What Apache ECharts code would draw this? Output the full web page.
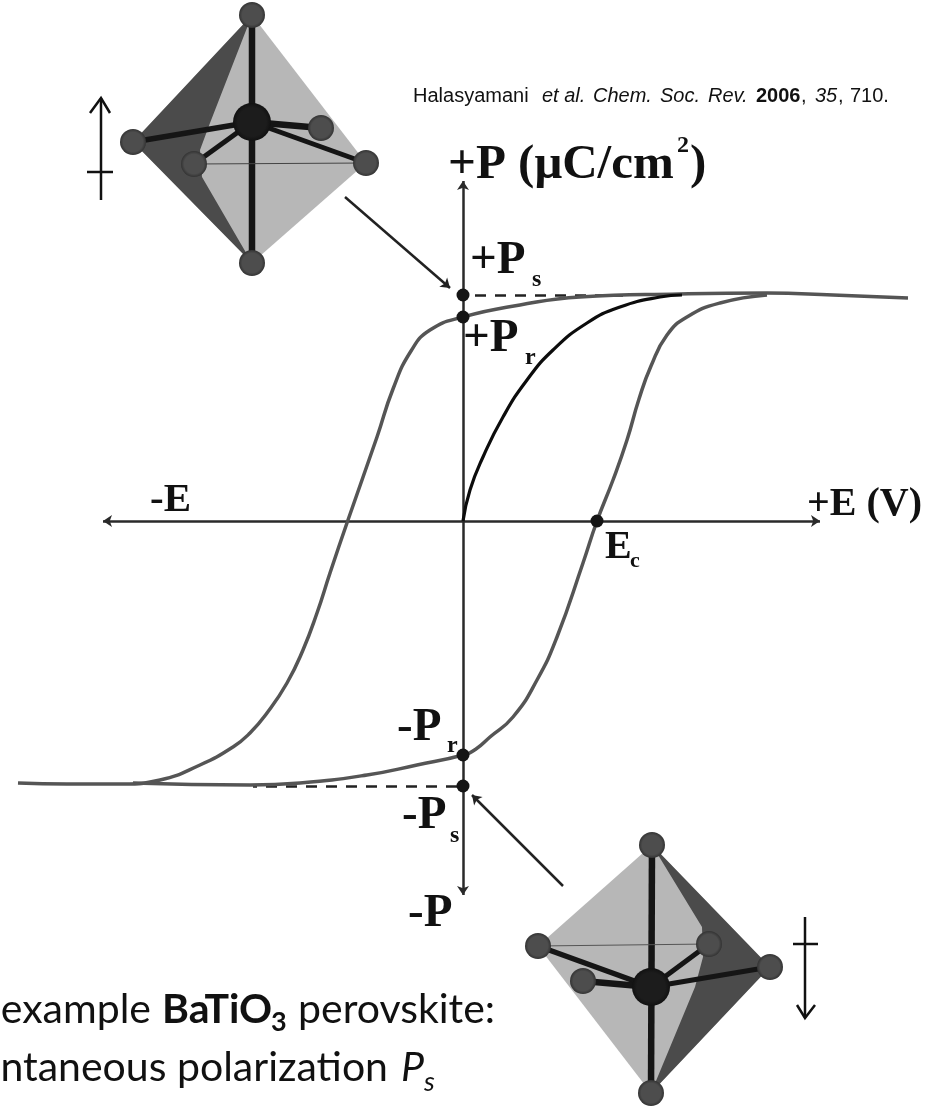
<!DOCTYPE html>
<html>
<head>
<meta charset="utf-8">
<style>
    html, body {margin: 0; background: #fff;}
    #chart {width: 934px; height: 1107px;}
</style>
<script src="https://cdn.jsdelivr.net/npm/echarts@6/dist/echarts.min.js"></script>
</head>
<body>
<div id="chart"></div>
<script>
// Hysteresis loop, [E, P] in arbitrary units (no ticks in the source figure).
const upperBranch = [
    [445, 223], [370, 226], [304, 228], [217, 227], [117, 224], [57, 216], [0, 204], [-33, 191],
    [-52, 170], [-70, 132], [-86, 84], [-115, 1], [-133, -52], [-146, -92], [-160, -129],
    [-176, -162], [-196, -192], [-213, -212], [-230, -226], [-263, -244], [-303, -259],
    [-340, -263], [-396, -263], [-445, -262],
];
const lowerBranch = [
    [-330, -262], [-213, -264], [-163, -262], [-96, -254], [-46, -244], [0, -234], [13, -228],
    [27, -216], [50, -196], [74, -159], [94, -116], [120, -42], [134, 0], [150, 41], [164, 81],
    [176, 122], [188, 155], [204, 186], [224, 204], [257, 218], [304, 226],
];
const virginCurve = [
    [0, 0], [7, 31], [20, 64], [40, 104], [64, 141], [90, 171], [124, 198], [157, 214], [197, 224],
    [219, 226],
];
const keyPoints = [[0, 226], [0, 204], [134, 0], [0, -234], [0, -265]];

const axisSegments = [
    [[-360, 0], [357, 0]],
    [[0, -374], [0, 340]],
];
const pointerArrows = [
    [[-118, 324], [-13, 233]],
    [[100, -365], [9, -274]],
];
const saturationDashes = [
    [[12, 226], [160, 226]],
    [[-6, -265], [-210, -265]],
];

// Octahedra: top, bottom, left, right, front, back, centre
const upperOcta = [[-211, 506], [-211, 258], [-330, 379], [-97, 358], [-269, 357], [-142, 393], [-211, 399]];
const lowerOcta = [[189, -324], [188, -572], [75, -425], [307, -446], [246, -423], [120, -460], [188, -466]];
const upperDarkInner = [[-261, 344], [-263, 371], [-253, 398]];
const lowerDarkInner = [[232, -466], [240, -436], [239, -406]];
const upperPolarity = [
    [[-362, 423], [-362, 321]], [[-373, 408], [-362, 423], [-353, 408]], [[-376, 349], [-350, 349]],
];
const lowerPolarity = [
    [[342, -396], [342, -497]], [[334, -484], [342, -497], [352, -484]], [[330, -423], [355, -423]],
];

const annotations = [
    ['+P (\u03bcC/cm', -15, 341, 49],
    ['2', 214, 368, 24],
    [')', 227, 341, 49],
    ['+P', 7, 246, 47],
    ['s', 69, 234, 24],
    ['+P', 0, 168, 47],
    ['r', 62, 156, 24],
    ['E', 142, -39, 40],
    ['c', 167, -47, 22],
    ['+E (V)', 344, 4, 40],
    ['-E', -313, 8, 41],
    ['-P', -66, -221, 47],
    ['r', -16, -232, 24],
    ['-P', -61, -309, 47],
    ['s', -13, -322, 24],
    ['-P', -55, -407, 47],
];

const citationFragments = [
    ['Halasyamani', 413, 'normal', 'normal'],
    ['et al.', 542, 'italic', 'normal'],
    ['Chem.', 593, 'italic', 'normal'],
    ['Soc.', 660, 'italic', 'normal'],
    ['Rev.', 708, 'italic', 'normal'],
    ['2006', 756, 'normal', 'bold'],
    [',', 801, 'normal', 'normal'],
    ['35', 815, 'italic', 'normal'],
    [',', 838, 'normal', 'normal'],
    ['710.', 850, 'normal', 'normal'],
];

const bodyFragments = [
    ['For example', 151, 1022, 'normal', 'normal', 41, 'right'],
    ['BaTiO', 162, 1022, 'bold', 'normal', 41, 'left'],
    ['3', 271, 1030, 'bold', 'normal', 27, 'left'],
    ['perovskite:', 298, 1022, 'normal', 'normal', 41, 'left'],
    ['spontaneous polarization', 388, 1080, 'normal', 'normal', 41, 'right'],
    ['P', 401, 1080, 'normal', 'italic', 41, 'left'],
    ['s', 424, 1090, 'normal', 'italic', 27, 'left'],
    ['based on displacement of', 524, 1137, 'normal', 'normal', 41, 'right'],
];

const octaBonds = octa => [
    [octa[0], octa[1]], [octa[6], octa[2]], [octa[6], octa[3]], [octa[6], octa[4]], [octa[6], octa[5]],
];
const segments = [
    ...[upperOcta, lowerOcta].flatMap(octa => octaBonds(octa).map((points, i) => ({
        points, width: [6.5, 5.5, 5, 5, 6.5][i], color: '#151515',
    }))),
    {points: [upperOcta[4], upperOcta[3]], width: 1, color: '#444'},
    {points: [lowerOcta[2], lowerOcta[4]], width: 1, color: '#555'},
    ...[...upperPolarity, ...lowerPolarity].map(points => ({points, width: 2.5, color: '#111'})),
];
const faces = [
    {points: [upperOcta[0], upperOcta[3], upperOcta[1], upperOcta[2]], color: '#b7b7b7'},
    {points: [upperOcta[0], upperOcta[2], upperOcta[1], ...upperDarkInner], color: '#4b4b4b'},
    {points: [lowerOcta[0], lowerOcta[3], lowerOcta[1], lowerOcta[2]], color: '#b7b7b7'},
    {points: [lowerOcta[0], lowerOcta[3], lowerOcta[1], ...lowerDarkInner], color: '#4b4b4b'},
];

const ballGradient = (inner, outer) => new echarts.graphic.RadialGradient(0.5, 0.5, 0.5, [
    {offset: 0, color: inner},
    {offset: 0.75, color: inner},
    {offset: 1, color: outer},
]);

// zrender draws text on its middle line, so shift from the baseline by about a third of the size
const baselineShift = size => size * 0.3;

const chart = echarts.init(document.getElementById('chart'), null, {renderer: 'canvas'});
chart.setOption({
    animation: false,
    backgroundColor: '#fff',
    grid: {left: 0, right: 0, top: 0, bottom: 0},
    xAxis: {type: 'value', min: -463, max: 471, show: false},
    yAxis: {type: 'value', min: -586, max: 521, show: false},
    graphic: [
        ...citationFragments.map(([text, x, style, weight]) => ({
            type: 'text',
            x,
            y: 102 - baselineShift(20),
            style: {
                text,
                fill: '#111',
                verticalAlign: 'middle',
                font: `${style} ${weight} 20px "Liberation Sans"`,
            },
        })),
        ...bodyFragments.map(([text, x, y, weight, style, size, align]) => ({
            type: 'text',
            x,
            y: y - baselineShift(size),
            style: {
                text,
                fill: '#111',
                align,
                verticalAlign: 'middle',
                font: `${style} ${weight} ${size}px Lato`,
            },
        })),
    ],
    series: [{
        type: 'custom',
        z: 1,
        silent: true,
        clip: false,
        data: faces.map((x, i) => [i]),
        renderItem: (params, api) => ({
            type: 'polygon',
            shape: {points: faces[params.dataIndex].points.map(p => api.coord(p))},
            style: {fill: faces[params.dataIndex].color},
        }),
    }, {
        type: 'custom',
        z: 2,
        silent: true,
        clip: false,
        data: segments.map((x, i) => [i]),
        renderItem: (params, api) => {
            const seg = segments[params.dataIndex];
            return {
                type: 'polyline',
                shape: {points: seg.points.map(p => api.coord(p))},
                style: {stroke: seg.color, lineWidth: seg.width, fill: 'none'},
            };
        },
    }, {
        type: 'scatter',
        z: 3,
        silent: true,
        symbolSize: 26,
        itemStyle: {color: ballGradient('#4d4d4d', '#333'), opacity: 1},
        data: [...upperOcta.slice(0, 6), ...lowerOcta.slice(0, 6)],
    }, {
        type: 'scatter',
        z: 4,
        silent: true,
        symbolSize: 38,
        itemStyle: {color: ballGradient('#1c1c1c', '#111'), opacity: 1},
        data: [upperOcta[6], lowerOcta[6]],
    }, {
        type: 'line',
        z: 5,
        silent: true,
        data: [],
        markLine: {
            silent: true,
            animation: false,
            label: {show: false},
            emphasis: {disabled: true},
            data: [
                ...axisSegments.map(([a, b]) => [{
                    coord: a,
                    symbol: 'arrow',
                    symbolSize: 9,
                    lineStyle: {color: '#2a2a2a', width: 2.5, type: 'solid'},
                }, {coord: b, symbol: 'arrow', symbolSize: 9}]),
                ...pointerArrows.map(([a, b]) => [{
                    coord: a,
                    symbol: 'none',
                    lineStyle: {color: '#222', width: 2.5, type: 'solid'},
                }, {coord: b, symbol: 'arrow', symbolSize: 9}]),
                ...saturationDashes.map(([a, b]) => [{
                    coord: a,
                    symbol: 'none',
                    lineStyle: {color: '#222', width: 2.5, type: [11, 9]},
                }, {coord: b, symbol: 'none'}]),
            ],
        },
    }, {
        name: 'Upper branch',
        type: 'line',
        z: 6,
        silent: true,
        showSymbol: false,
        smooth: 0.5,
        lineStyle: {color: '#555', width: 3.5},
        data: upperBranch,
    }, {
        name: 'Lower branch',
        type: 'line',
        z: 6,
        silent: true,
        showSymbol: false,
        smooth: 0.5,
        lineStyle: {color: '#555', width: 3.5},
        data: lowerBranch,
    }, {
        name: 'Initial polarization',
        type: 'line',
        z: 7,
        silent: true,
        showSymbol: false,
        smooth: 0.5,
        lineStyle: {color: '#0c0c0c', width: 3.2},
        data: virginCurve,
    }, {
        type: 'scatter',
        z: 8,
        silent: true,
        symbolSize: 13,
        itemStyle: {color: '#151515', opacity: 1},
        data: keyPoints,
    }, {
        type: 'custom',
        z: 9,
        silent: true,
        clip: false,
        data: annotations.map((x, i) => [i]),
        renderItem: (params, api) => {
            const [text, e, p, size] = annotations[params.dataIndex];
            const [x, y] = api.coord([e, p]);
            return {
                type: 'text',
                x,
                y: y - baselineShift(size),
                style: {
                    text,
                    fill: '#111',
                    verticalAlign: 'middle',
                    font: `bold ${size}px "Liberation Serif"`,
                },
            };
        },
    }],
});
</script>
</body>
</html>
